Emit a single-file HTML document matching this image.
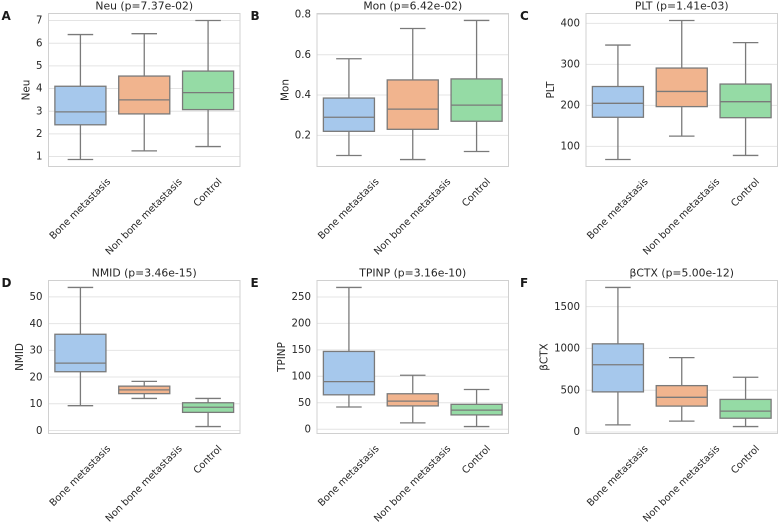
<!DOCTYPE html>
<html>
<head>
<meta charset="utf-8">
<style>
html,body{margin:0;padding:0;background:#fff;}
svg{display:block;font-family:"DejaVu Sans","Liberation Sans",sans-serif;filter:blur(0.3px);}
</style>
</head>
<body>
<svg id="figure" width="779" height="522" viewBox="0 0 779 522" xmlns="http://www.w3.org/2000/svg"></svg>
<script>
var categories = ['Bone metastasis', 'Non bone metastasis', 'Control'];
var panelKeys = ['Neu', 'Mon', 'PLT', 'NMID', 'TPINP', 'βCTX'];
var panelLetters = ['A', 'B', 'C', 'D', 'E', 'F'];
var panelPValues = ['7.37e-02', '6.42e-02', '1.41e-03', '3.46e-15', '3.16e-10', '5.00e-12'];

// Each group: [whisker low, Q1, median, Q3, whisker high]
var neuBone = [0.87, 2.40, 2.97, 4.10, 6.38];
var neuNon = [1.25, 2.88, 3.50, 4.55, 6.42];
var neuControl = [1.44, 3.07, 3.82, 4.77, 7.00];
var monBone = [0.10, 0.22, 0.29, 0.385, 0.58];
var monNon = [0.08, 0.23, 0.33, 0.475, 0.73];
var monControl = [0.12, 0.27, 0.35, 0.48, 0.77];
var pltBone = [68, 171, 205, 246, 347];
var pltNon = [125, 197, 234, 291, 407];
var pltControl = [78, 170, 209, 252, 353];
var nmidBone = [9.3, 22, 25.2, 36, 53.5];
var nmidNon = [12, 13.8, 15.2, 16.6, 18.4];
var nmidControl = [1.5, 6.8, 8.7, 10.4, 12];
var tpinpBone = [42, 65, 90, 147, 268];
var tpinpNon = [12, 44, 53, 67, 102];
var tpinpControl = [5, 27, 36, 47, 75];
var ctxBone = [85, 480, 805, 1055, 1730];
var ctxNon = [130, 310, 415, 555, 890];
var ctxControl = [65, 165, 250, 390, 655];

var neuTicks = ['1', '2', '3', '4', '5', '6', '7'];
var monTicks = ['0.2', '0.4', '0.6', '0.8'];
var pltTicks = ['100', '200', '300', '400'];
var nmidTicks = ['0', '10', '20', '30', '40', '50'];
var tpinpTicks = ['0', '50', '100', '150', '200', '250'];
var ctxTicks = ['0', '500', '1000', '1500'];

var neuLimits = [0.56, 7.31];
var monLimits = [0.0455, 0.8045];
var pltLimits = [51, 424];
var nmidLimits = [-1.1, 56.1];
var tpinpLimits = [-8.15, 281.15];
var ctxLimits = [-18, 1813];

var panelStats = [
  [neuBone, neuNon, neuControl],
  [monBone, monNon, monControl],
  [pltBone, pltNon, pltControl],
  [nmidBone, nmidNon, nmidControl],
  [tpinpBone, tpinpNon, tpinpControl],
  [ctxBone, ctxNon, ctxControl]
];
var panelTicks = [neuTicks, monTicks, pltTicks, nmidTicks, tpinpTicks, ctxTicks];
var panelLimits = [neuLimits, monLimits, pltLimits, nmidLimits, tpinpLimits, ctxLimits];

var NS = 'http://www.w3.org/2000/svg';
var figure = document.getElementById('figure');
var TEXT = '#262626', LINE = '#7a7a7a', GRID = '#e4e4e4', SPINE = '#d0d0d0';
var FILLS = ['#a6c8ec', '#f1b48e', '#95dba5'];
var LEFTS = [48.5, 317, 586];
var LETTER_X = [1.5, 250.5, 520];
var PLOT_W = 191.5;
var TOPS = [13.5, 280.5];
var PLOT_H = 153;
var LW = 1.3;

function make(parent, tag, attrs, text) {
  var node = document.createElementNS(NS, tag);
  for (var k in attrs) node.setAttribute(k, attrs[k]);
  if (text !== undefined) node.textContent = text;
  parent.appendChild(node);
  return node;
}
function hLine(parent, x1, x2, y, color, width) {
  return make(parent, 'line', {x1: x1, x2: x2, y1: y, y2: y, stroke: color, 'stroke-width': width});
}
function vLine(parent, x, y1, y2, color, width) {
  return make(parent, 'line', {x1: x, x2: x, y1: y1, y2: y2, stroke: color, 'stroke-width': width});
}

panelKeys.forEach(function (key, p) {
  var left = LEFTS[p % 3];
  var top = TOPS[Math.floor(p / 3)];
  var limits = panelLimits[p];
  var yScale = function (v) {
    return top + PLOT_H - (v - limits[0]) / (limits[1] - limits[0]) * PLOT_H;
  };
  var band = PLOT_W / categories.length;
  var xScale = function (i) { return left + band * (i + 0.5); };
  var slug = key === 'βCTX' ? 'bctx' : key.toLowerCase();

  var g = make(figure, 'g', {});
  
  

  var letter = make(g, 'text', {x: LETTER_X[p % 3], y: top + 6.3, 'font-size': 12, 'font-weight': 700, fill: '#1a1a1a'}, panelLetters[p]);
  
  

  var title = make(g, 'text', {x: left + PLOT_W / 2, y: top - 4.2, 'font-size': 10.8, 'text-anchor': 'middle', fill: TEXT}, key + ' (p=' + panelPValues[p] + ')');
  
  

  var maxTickWidth = 0;
  panelTicks[p].forEach(function (label) {
    var y = yScale(parseFloat(label));
    var grid = hLine(g, left, left + PLOT_W, y, GRID, 1);
    
    
    var tick = make(g, 'text', {x: left - 6, y: y + 0.7, 'font-size': 10.2, 'text-anchor': 'end', 'dominant-baseline': 'central', fill: TEXT}, label);
    
    
    maxTickWidth = Math.max(maxTickWidth, tick.getComputedTextLength());
  });

  var ylabelX = left - 15.4 - maxTickWidth;
  var ylabel = make(g, 'text', {x: ylabelX, y: top + PLOT_H / 2, 'font-size': 10.4, 'text-anchor': 'middle', 'dominant-baseline': 'central', fill: TEXT, transform: 'rotate(-90 ' + ylabelX + ' ' + (top + PLOT_H / 2) + ')'}, key);
  
  

  categories.forEach(function (cat, i) {
    var s = panelStats[p][i];
    var cx = xScale(i);
    var boxW = band * 0.8, capW = band * 0.4;
    var box = make(g, 'g', {});
    
    
    vLine(box, cx, yScale(s[3]), yScale(s[4]), LINE, LW);
    vLine(box, cx, yScale(s[0]), yScale(s[1]), LINE, LW);
    hLine(box, cx - capW / 2, cx + capW / 2, yScale(s[4]), LINE, LW);
    hLine(box, cx - capW / 2, cx + capW / 2, yScale(s[0]), LINE, LW);
    make(box, 'rect', {x: cx - boxW / 2, y: yScale(s[3]), width: boxW, height: yScale(s[1]) - yScale(s[3]), fill: FILLS[i], stroke: LINE, 'stroke-width': LW});
    hLine(box, cx - boxW / 2, cx + boxW / 2, yScale(s[2]), LINE, LW);

    var label = make(g, 'text', {x: 0, y: 0, 'font-size': 9.8, 'text-anchor': 'middle', 'dominant-baseline': 'central', fill: TEXT}, cat);
    
    
    var len = label.getComputedTextLength();
    var half = (len + 11) * Math.SQRT1_2 / 2;
    var ly = top + PLOT_H + 10 + half;
    label.setAttribute('x', cx);
    label.setAttribute('y', ly);
    label.setAttribute('transform', 'rotate(-45 ' + cx + ' ' + ly + ')');
  });

  var frame = make(g, 'rect', {x: left, y: top, width: PLOT_W, height: PLOT_H, fill: 'none', stroke: SPINE, 'stroke-width': 1});
  
  
});
</script>
</body>
</html>
